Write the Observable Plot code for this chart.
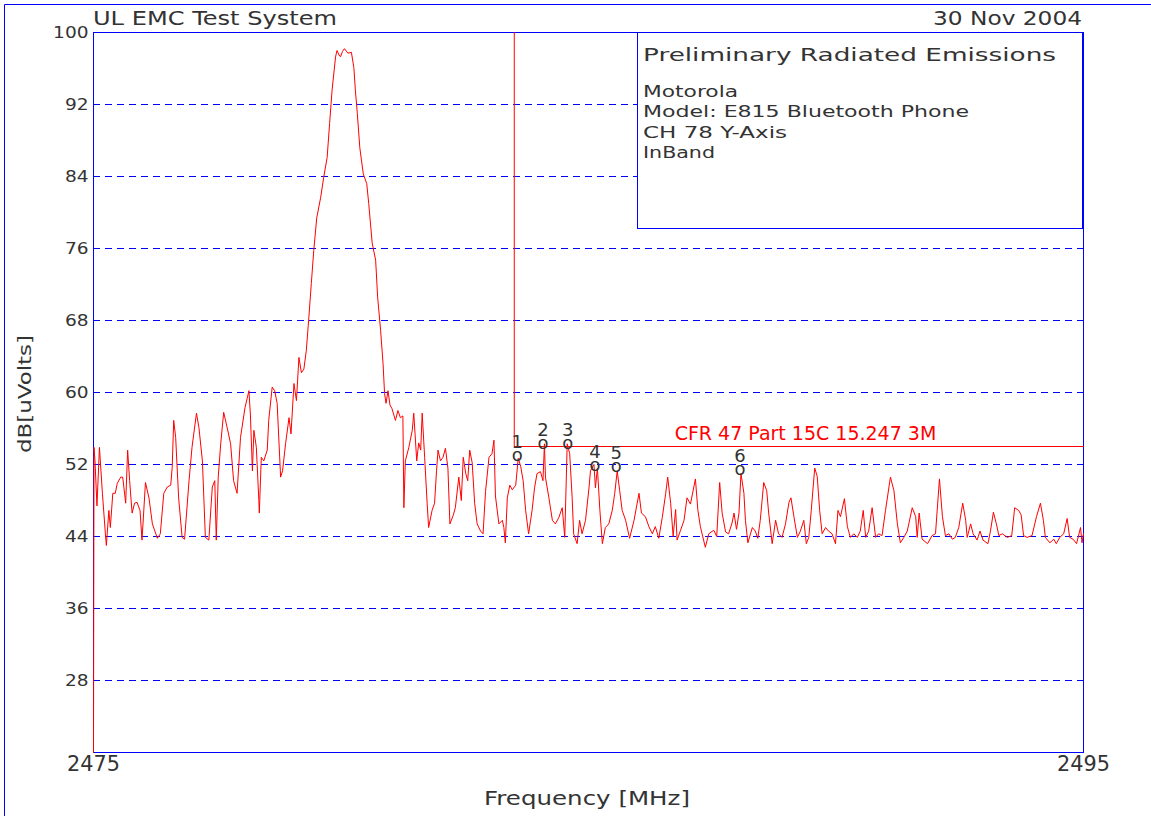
<!DOCTYPE html>
<html>
<head>
<meta charset="utf-8">
<script src="https://cdn.jsdelivr.net/npm/d3@7"></script>
<script src="https://cdn.jsdelivr.net/npm/@observablehq/plot@0.6"></script>
<style>
html, body { margin: 0; padding: 0; background: #fff; }
#chart { position: relative; width: 1151px; height: 816px; overflow: hidden; }
</style>
</head>
<body>
<div id="chart"></div>
<script>
// ---- Data ----
const freqMHz = [
2475.00,2475.01,2475.03,2475.07,2475.12,2475.18,2475.24,2475.26,2475.31,2475.34,
2475.39,2475.44,2475.48,2475.55,2475.59,2475.65,2475.69,2475.73,2475.78,2475.83,
2475.88,2475.94,2475.98,2476.05,2476.12,2476.19,2476.29,2476.35,2476.42,2476.49,
2476.56,2476.59,2476.62,2476.66,2476.72,2476.79,2476.84,2476.93,2476.99,2477.08,
2477.13,2477.20,2477.26,2477.33,2477.40,2477.45,2477.48,2477.52,2477.57,2477.63,
2477.70,2477.77,2477.83,2477.90,2477.97,2478.06,2478.14,2478.17,2478.21,2478.24,
2478.29,2478.34,2478.35,2478.39,2478.44,2478.51,2478.54,2478.61,2478.66,2478.71,
2478.78,2478.82,2478.88,2478.95,2478.99,2479.05,2479.10,2479.15,2479.20,2479.25,
2479.30,2479.35,2479.40,2479.45,2479.51,2479.59,2479.65,2479.72,2479.77,2479.82,
2479.89,2479.92,2479.96,2479.99,2480.03,2480.07,2480.14,2480.21,2480.26,2480.29,
2480.33,2480.38,2480.45,2480.52,2480.56,2480.63,2480.70,2480.74,2480.80,2480.85,
2480.88,2480.91,2480.95,2480.99,2481.03,2481.10,2481.15,2481.20,2481.25,2481.27,
2481.30,2481.37,2481.44,2481.47,2481.53,2481.57,2481.61,2481.64,2481.69,2481.74,
2481.77,2481.84,2481.89,2481.93,2481.96,2482.01,2482.06,2482.11,2482.16,2482.20,
2482.27,2482.31,2482.38,2482.43,2482.47,2482.52,2482.56,2482.60,2482.65,2482.70,
2482.75,2482.82,2482.87,2482.92,2482.99,2483.05,2483.09,2483.12,2483.19,2483.26,
2483.29,2483.32,2483.36,2483.41,2483.46,2483.53,2483.58,2483.63,2483.68,2483.73,
2483.79,2483.86,2483.91,2483.96,2484.03,2484.08,2484.11,2484.13,2484.20,2484.27,
2484.33,2484.40,2484.47,2484.52,2484.57,2484.62,2484.67,2484.70,2484.77,2484.82,
2484.87,2484.94,2485.01,2485.04,2485.11,2485.14,2485.18,2485.23,2485.28,2485.34,
2485.41,2485.48,2485.53,2485.58,2485.63,2485.68,2485.75,2485.83,2485.92,2486.02,
2486.07,2486.15,2486.22,2486.29,2486.35,2486.42,2486.49,2486.56,2486.60,2486.66,
2486.71,2486.76,2486.79,2486.86,2486.93,2486.99,2487.06,2487.16,2487.21,2487.26,
2487.36,2487.43,2487.53,2487.59,2487.65,2487.70,2487.77,2487.83,2487.90,2487.94,
2487.99,2488.04,2488.08,2488.14,2488.17,2488.22,2488.31,2488.37,2488.42,2488.47,
2488.54,2488.60,2488.64,2488.71,2488.78,2488.84,2488.91,2488.98,2489.05,2489.09,
2489.15,2489.22,2489.28,2489.35,2489.40,2489.45,2489.50,2489.57,2489.62,2489.67,
2489.72,2489.79,2489.85,2489.92,2489.99,2490.04,2490.09,2490.17,2490.23,2490.29,
2490.36,2490.43,2490.49,2490.55,2490.60,2490.66,2490.73,2490.80,2490.86,2490.93,
2491.00,2491.10,2491.17,2491.24,2491.30,2491.37,2491.44,2491.54,2491.61,2491.64,
2491.68,2491.74,2491.85,2491.94,2492.01,2492.09,2492.15,2492.21,2492.28,2492.35,
2492.41,2492.48,2492.56,2492.62,2492.65,2492.72,2492.77,2492.85,2492.91,2492.97,
2493.07,2493.12,2493.18,2493.24,2493.29,2493.36,2493.46,2493.55,2493.61,2493.69,
2493.74,2493.79,2493.86,2493.96,2494.05,2494.13,2494.19,2494.23,2494.32,2494.40,
2494.45,2494.52,2494.60,2494.67,2494.72,2494.79,2494.86,2494.94,2494.97,2495.00
];
const leveldBuV = [
20.0,53.9,52.4,47.4,53.9,48.8,44.3,43.0,46.9,45.0,
48.8,48.8,49.9,50.6,50.6,47.7,53.6,50.2,46.6,47.7,
47.8,46.9,43.6,50.0,48.3,45.4,43.8,44.3,48.8,49.5,
49.7,51.7,56.9,55.0,48.3,43.9,43.7,50.2,53.9,57.7,
56.1,52.4,43.9,43.6,49.5,50.2,43.6,50.6,54.3,57.8,
56.1,54.3,50.2,48.8,55.0,58.3,60.2,57.5,51.3,55.8,
53.9,48.0,46.6,52.8,52.4,53.6,56.9,60.6,60.2,58.8,
50.6,51.3,54.3,57.2,55.4,61.0,59.1,63.9,62.2,62.6,
64.7,68.3,72.1,75.8,79.4,81.7,83.9,86.1,89.9,93.6,
97.3,98.0,97.5,97.3,97.9,98.2,97.7,97.8,96.1,93.6,
91.0,87.2,84.3,83.2,81.0,76.6,74.7,70.6,66.9,63.2,
59.9,58.8,60.2,58.6,58.2,56.9,58.0,57.2,57.4,47.2,
52.4,53.9,55.8,57.7,52.4,54.4,53.6,57.7,52.8,47.7,
45.0,46.9,47.7,51.3,53.6,52.4,52.8,53.8,51.6,45.4,
46.4,47.2,50.6,48.0,52.8,51.0,50.2,53.6,52.2,47.7,
45.4,44.6,44.3,49.0,52.8,53.2,54.7,48.5,45.4,45.8,
45.0,43.3,48.3,49.7,49.2,49.7,52.7,51.8,50.2,46.9,
44.3,46.9,49.4,51.0,51.2,50.2,54.3,50.6,48.3,45.8,
45.4,46.1,47.2,43.9,54.3,53.2,48.3,44.3,43.2,45.8,
44.3,45.8,49.4,51.3,52.0,49.4,51.6,46.9,43.2,45.0,
45.4,46.9,48.8,51.3,49.1,46.9,45.8,43.8,45.8,48.8,
46.6,46.2,45.1,44.3,45.1,43.8,46.1,48.8,50.6,47.7,
44.0,47.0,43.6,44.7,45.8,48.3,47.6,50.4,46.9,45.1,
42.8,44.3,44.7,44.0,50.0,46.6,44.5,44.3,45.5,46.6,
44.8,46.6,51.0,48.8,45.8,43.3,45.0,44.6,43.8,45.8,
50.0,49.1,46.6,43.2,45.8,44.3,43.9,45.4,47.8,48.3,
46.2,43.9,44.6,45.8,43.2,43.9,46.9,51.6,50.7,46.9,
44.3,45.0,44.6,44.3,43.2,46.9,46.2,48.2,45.1,43.9,
44.3,43.9,44.6,46.9,43.9,44.6,47.2,43.9,44.3,44.1,
46.9,50.6,49.1,45.4,43.3,43.9,44.6,47.2,46.2,43.9,
46.6,43.7,43.2,44.1,44.3,50.4,46.2,44.1,44.3,43.7,
43.9,45.0,47.7,45.8,43.9,45.4,44.3,43.6,44.6,43.6,
43.2,44.6,46.7,45.4,44.1,44.3,43.9,44.1,47.2,46.9,
46.4,44.1,43.9,44.1,46.2,47.7,45.8,43.9,43.3,43.7,
43.2,43.9,44.3,46.0,43.9,43.7,43.2,45.0,43.3,44.3
];

// Limit line: CFR 47 Part 15C 15.247 3M (band edge 2483.5 MHz, 54 dBuV)
const limitFreq = [2483.5, 2483.5, 2495];
const limitLevel = [100, 54, 54];
const limitLabel = ["CFR 47 Part 15C 15.247 3M"];
const limitLabelFreq = [2486.74];
const limitLabelLevel = [54];

// Numbered markers
const markerFreq  = [2483.56, 2484.08, 2484.58, 2485.13, 2485.56, 2488.06];
const markerLevel = [52.9, 54.3, 54.2, 51.8, 51.7, 51.4];
const markerLabel = ["1", "2", "3", "4", "5", "6"];

// Axes
const yTicks = [100, 92, 84, 76, 68, 60, 52, 44, 36, 28];
const gridLevels = [92, 84, 76, 68, 60, 52, 44, 36, 28];
const xTicks = [2475, 2495];

// Texts
const headerLeft = "UL EMC Test System";
const headerRight = "30 Nov 2004";
const infoTitle = "Preliminary Radiated Emissions";
const infoLines = ["Motorola", "Model: E815 Bluetooth Phone", "CH 78 Y-Axis", "InBand"];
const xLabel = "Frequency [MHz]";
const yLabel = "dB[uVolts]";

// ---- Drawing ----
const BLUE = "#0000ff";
const RED = "#ff0000";
const INK = "#333333";
const FONT = "'DejaVu Sans', 'Liberation Sans', sans-serif";

const trace = freqMHz.map((f, i) => ({f, v: leveldBuV[i]}));
const limit = limitFreq.map((f, i) => ({f, v: limitLevel[i]}));
const markers = markerFreq.map((f, i) => ({f, v: markerLevel[i], label: markerLabel[i]}));
const limitText = limitLabel.map((t, i) => ({t, f: limitLabelFreq[i], v: limitLabelLevel[i]}));

const svg = Plot.plot({
  width: 1151,
  height: 816,
  marginLeft: 93,
  marginRight: 68,
  marginTop: 32,
  marginBottom: 64,
  style: {fontFamily: FONT, background: "#fff", color: INK},
  x: {domain: [2475, 2495]},
  y: {domain: [20, 100]},
  marks: [
    Plot.gridY(gridLevels, {stroke: BLUE, strokeOpacity: 1, strokeWidth: 1, strokeDasharray: "7,5"}),
    Plot.frame({stroke: BLUE, strokeWidth: 1}),
    Plot.axisY({ticks: yTicks, tickSize: 0, tickPadding: 5, label: null, fontSize: 16, fill: INK}),
    Plot.axisX({ticks: xTicks, tickSize: 0, tickPadding: 3, label: null, fontSize: 22, fill: INK, tickFormat: d => String(d)}),
    Plot.line(limit, {x: "f", y: "v", stroke: RED, strokeWidth: 1}),
    Plot.line(trace, {x: "f", y: "v", stroke: RED, strokeWidth: 1}),
    Plot.text(limitText, {x: "f", y: "v", text: "t", fill: RED, fontSize: 19, textAnchor: "start", dy: -13, ariaLabel: "limitlabel"}),
    Plot.text(markers, {x: "f", y: "v", text: () => "o", fill: INK, fontSize: 18, dy: -1}),
    Plot.text(markers, {x: "f", y: "v", text: "label", fill: INK, fontSize: 18, dy: -14})
  ]
});

document.getElementById("chart").appendChild(svg);
const s = d3.select(svg);

function fitText(sel, w) {
  sel.each(function() {
    const width = typeof w === "function" ? w(this.textContent) : w;
    this.setAttribute("textLength", width);
    this.setAttribute("lengthAdjust", "spacingAndGlyphs");
  });
}
fitText(s.selectAll("g[aria-label='y-axis tick label'] text"), t => t.length * 11.8);
fitText(s.selectAll("g[aria-label='x-axis tick label'] text"), 53);
fitText(s.selectAll("g[aria-label='limitlabel'] text"), 339);

function addText(str, x, y, size, len, opts = {}) {
  const t = s.append("text")
    .attr("x", x).attr("y", y)
    .attr("font-size", size)
    .attr("font-family", FONT)
    .attr("fill", opts.fill || INK)
    .attr("text-anchor", opts.anchor || "start")
    .text(str);
  if (len) t.attr("textLength", len).attr("lengthAdjust", "spacingAndGlyphs");
  if (opts.rotate) t.attr("transform", `rotate(-90 ${x} ${y})`);
  return t;
}

// outer border of the page
s.append("path").attr("d", "M4.5,1000V4.5H1200").attr("fill", "none").attr("stroke", BLUE);

// info box
s.append("rect").attr("x", 637.5).attr("y", 32.5).attr("width", 445).attr("height", 196)
  .attr("fill", "#fff").attr("stroke", BLUE);
addText(infoTitle, 643, 61, 17.5, 413);
const infoLens = [95, 326, 144, 72];
infoLines.forEach((line, i) => addText(line, 643, 97 + i * 20.3, 16, infoLens[i]));

// header
addText(headerLeft, 93, 25, 20, 244);
addText(headerRight, 933, 25, 20, 149);

// axis titles
addText(xLabel, 484, 805, 19, 206);
addText(yLabel, 31, 394, 18, 118, {anchor: "middle", rotate: true});
</script>
</body>
</html>
